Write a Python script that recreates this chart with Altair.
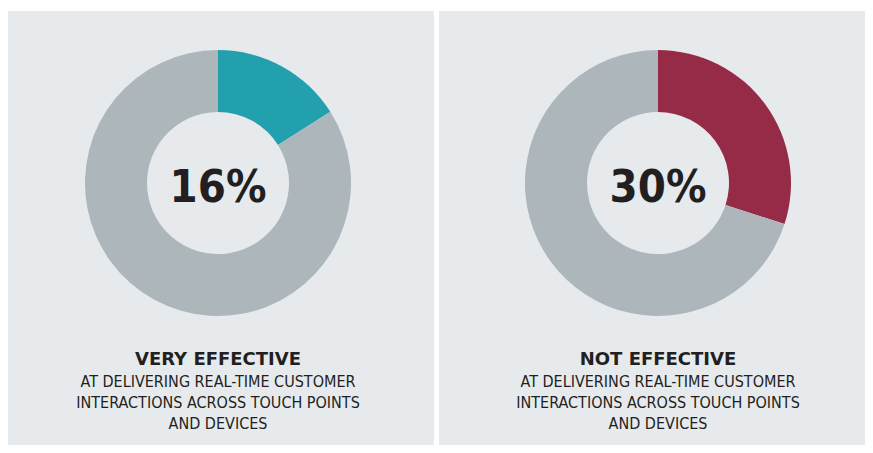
import altair as alt
import pandas as pd

# ---- data ----
panel_titles = ["VERY EFFECTIVE", "NOT EFFECTIVE"]
shares = [16, 30]
highlight_colors = ["#22a0ad", "#952b46"]
rest_color = "#adb6bb"
subtitle_lines = [
    "AT DELIVERING REAL-TIME CUSTOMER",
    "INTERACTIONS ACROSS TOUCH POINTS",
    "AND DEVICES",
]

# ---- style / layout ----
PANEL_W, PANEL_H = 426, 434
CENTERS_X = [210, 219]
CENTER_Y = 172
TEXT_COLOR = "#231f20"
CONDENSED = "DejaVu Sans Condensed, DejaVu Sans, sans-serif"
TITLE_FONT = "DejaVu Sans, sans-serif"


def panel(i):
    cx = CENTERS_X[i]
    df = pd.DataFrame({
        "part": ["share", "rest"],
        "value": [shares[i], 100 - shares[i]],
        "order": [0, 1],
    })
    arc = alt.Chart(df).mark_arc(innerRadius=71, outerRadius=133).encode(
        theta=alt.Theta("value:Q", stack=True),
        color=alt.Color("part:N", scale=alt.Scale(domain=["share", "rest"],
                                                  range=[highlight_colors[i], rest_color]),
                        legend=None),
        order=alt.Order("order:Q"),
        x=alt.value(cx), y=alt.value(CENTER_Y),
    )
    center = alt.Chart(pd.DataFrame({"label": [f"{shares[i]}%"]})).mark_text(
        font=CONDENSED, fontSize=45, fontWeight="bold", color=TEXT_COLOR,
        align="center", baseline="alphabetic"
    ).encode(text="label:N", x=alt.value(cx), y=alt.value(191))
    title = alt.Chart(pd.DataFrame({"t": [panel_titles[i]]})).mark_text(
        font=TITLE_FONT, fontSize=18, fontWeight="bold", color=TEXT_COLOR,
        align="center", baseline="alphabetic"
    ).encode(text="t:N", x=alt.value(cx), y=alt.value(354))
    sub = alt.Chart(pd.DataFrame({"line": [0, 1, 2], "t": subtitle_lines})).mark_text(
        font=CONDENSED, fontSize=16, color=TEXT_COLOR,
        align="center", baseline="alphabetic"
    ).encode(
        text="t:N", x=alt.value(cx),
        y=alt.Y("line:O", scale=alt.Scale(range=[376, 418], padding=0), axis=None),
    )
    return alt.layer(arc, center, title, sub).properties(width=PANEL_W, height=PANEL_H)


chart = alt.hconcat(panel(0), panel(1), spacing=5).resolve_scale(
    color="independent", y="independent"
).properties(
    padding={"top": 3, "left": 0, "right": 0, "bottom": 0},
    background="#ffffff",
).configure_view(fill="#e7eaed", stroke=None)

chart.save("out.html", embed_options={"renderer": "svg", "actions": False})
